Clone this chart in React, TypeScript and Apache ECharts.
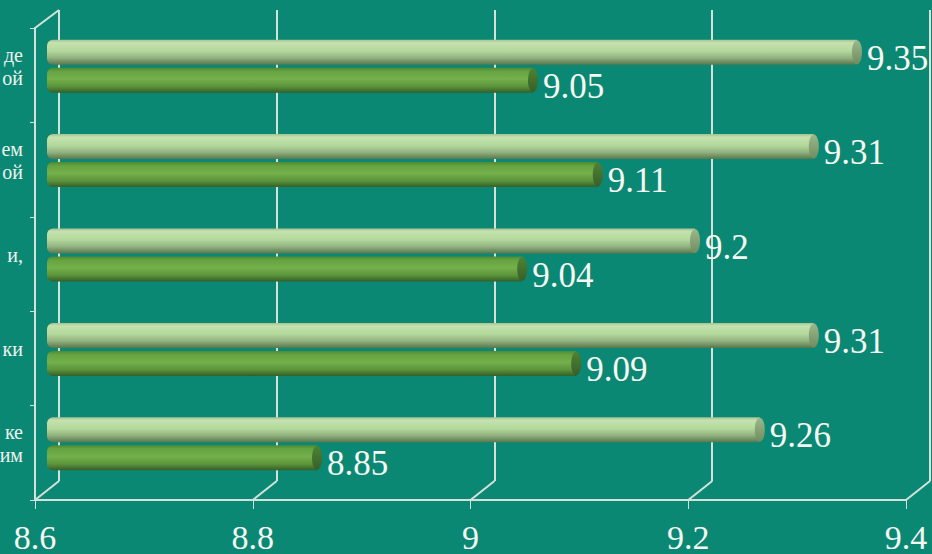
import React, { useEffect, useRef } from "react";
import * as echarts from "echarts";

const categories = ["де\nой", "ем\nой", "и,", "ки", "ке\nим"];
const seriesLight = [9.35, 9.31, 9.2, 9.31, 9.26];
const seriesDark = [9.05, 9.11, 9.04, 9.09, 8.85];
const xMin = 8.6;
const xMax = 9.4;
const xStep = 0.2;
const tickValues = [8.6, 8.8, 9.0, 9.2, 9.4];

const BG = "#0b8873";
const GRID_LINE = "#d3e2db";
const FONT = "Liberation Serif, Times New Roman, serif";
const BAR_W = 25;
const BAR_OFF = 14;

const FRONT = { left: 35, right: 26, top: 28, bottom: 54, outerBoundsMode: "none", containLabel: false };
const BACK = { left: 59, right: 2, top: 10, bottom: 73, outerBoundsMode: "none", containLabel: false };
const BARS = { left: 47, right: 21, top: 19, bottom: 63, outerBoundsMode: "none", containLabel: false };

function capSeries(values: number[], offset: number, colors: string[]) {
  return {
    type: "custom",
    xAxisIndex: 2,
    yAxisIndex: 2,
    z: 5,
    clip: false,
    silent: true,
    data: values.map((v, i) => [v, i]),
    encode: { x: 0, y: 1 },
    renderItem: (params: any, api: any) => {
      const c = api.coord([api.value(0), api.value(1)]);
      return {
        type: "ellipse",
        shape: { cx: c[0], cy: c[1] + offset, rx: 5, ry: BAR_W / 2 - 0.5 },
        style: {
          fill: new echarts.graphic.LinearGradient(0, 0, 0, 1, [
            { offset: 0, color: colors[0] },
            { offset: 1, color: colors[1] },
          ]),
        },
      };
    },
  };
}

export default function App() {
  const ref = useRef<HTMLDivElement>(null);

  useEffect(() => {
    if (!ref.current) return;
    const chart = echarts.init(ref.current, null, { renderer: "svg" });

    const lightGrad = new echarts.graphic.LinearGradient(0, 0, 0, 1, [
      { offset: 0, color: "#a3c292" },
      { offset: 0.12, color: "#c4e2ae" },
      { offset: 0.45, color: "#b4d89c" },
      { offset: 0.72, color: "#93b381" },
      { offset: 1, color: "#58774d" },
    ]);
    const darkGrad = new echarts.graphic.LinearGradient(0, 0, 0, 1, [
      { offset: 0, color: "#4f8a34" },
      { offset: 0.15, color: "#66a342" },
      { offset: 0.45, color: "#74b04b" },
      { offset: 0.75, color: "#5c943b" },
      { offset: 1, color: "#355e29" },
    ]);

    const labelStyle = {
      show: true,
      position: "right",
      distance: 10,
      offset: [0, 6],
      color: "#f6f8f2",
      fontFamily: FONT,
      fontSize: 35,
    };

    const option: any = {
      animation: false,
      backgroundColor: BG,
      textStyle: { fontFamily: FONT },
      grid: [BACK, FRONT, BARS],
      xAxis: [
        {
          gridIndex: 0,
          type: "value",
          min: xMin,
          max: xMax,
          interval: xStep,
          axisLine: { show: false },
          axisTick: { show: false },
          axisLabel: { show: false },
          splitLine: { show: true, lineStyle: { color: GRID_LINE, width: 2 } },
        },
        {
          gridIndex: 1,
          type: "value",
          min: xMin,
          max: xMax,
          interval: xStep,
          axisLine: { show: true, lineStyle: { color: GRID_LINE, width: 2 } },
          axisTick: { show: true, length: 9, lineStyle: { color: GRID_LINE, width: 1 } },
          axisLabel: {
            show: true,
            color: "#f4f6f2",
            fontFamily: FONT,
            fontSize: 34,
            lineHeight: 24,
            margin: 25,
            formatter: (v: number) => String(Number(v.toFixed(1))),
          },
          splitLine: { show: false },
        },
        {
          gridIndex: 2,
          type: "value",
          min: xMin,
          max: xMax,
          interval: xStep,
          show: false,
        },
      ],
      yAxis: [
        {
          gridIndex: 0,
          type: "category",
          data: categories,
          inverse: true,
          show: false,
        },
        {
          gridIndex: 1,
          type: "category",
          data: categories,
          inverse: true,
          axisLine: { show: true, lineStyle: { color: GRID_LINE, width: 2 } },
          axisTick: { show: true, length: 5, lineStyle: { color: GRID_LINE, width: 1 } },
          axisLabel: { show: false },
          splitLine: { show: false },
        },
        {
          gridIndex: 2,
          type: "category",
          data: categories,
          inverse: true,
          axisLine: { show: false },
          axisTick: { show: false },
          axisLabel: {
            show: true,
            color: "#eef3ee",
            fontFamily: FONT,
            fontSize: 20,
            lineHeight: 23,
            margin: 24,
            align: "right",
          },
          splitLine: { show: false },
        },
      ],
      series: [
        {
          type: "bar",
          name: "light",
          xAxisIndex: 2,
          yAxisIndex: 2,
          data: seriesLight,
          barWidth: BAR_W,
          barGap: "12%",
          itemStyle: { color: lightGrad, borderRadius: [6, 0, 0, 6] },
          label: labelStyle,
          z: 4,
        },
        {
          type: "bar",
          name: "dark",
          xAxisIndex: 2,
          yAxisIndex: 2,
          data: seriesDark,
          barWidth: BAR_W,
          barGap: "12%",
          itemStyle: { color: darkGrad, borderRadius: [6, 0, 0, 6] },
          label: labelStyle,
          z: 4,
        },
        capSeries(seriesLight, -BAR_OFF, ["#9ab889", "#6f8d62"]),
        capSeries(seriesDark, BAR_OFF, ["#4e8233", "#37602a"]),
      ],
    };

    chart.setOption(option);

    const frontY = 554 - FRONT.bottom;
    const backY = 554 - BACK.bottom;
    const lines: any[] = [];
    tickValues.forEach((v) => {
      const fx = chart.convertToPixel({ xAxisIndex: 1 }, v) as number;
      const bx = chart.convertToPixel({ xAxisIndex: 0 }, v) as number;
      lines.push({
        type: "line",
        shape: { x1: fx, y1: frontY, x2: bx, y2: backY },
        style: { stroke: GRID_LINE, lineWidth: 2 },
        z: 1,
      });
    });
    const fx0 = chart.convertToPixel({ xAxisIndex: 1 }, xMin) as number;
    const bx0 = chart.convertToPixel({ xAxisIndex: 0 }, xMin) as number;
    lines.push({
      type: "line",
      shape: { x1: fx0, y1: FRONT.top, x2: bx0, y2: BACK.top },
      style: { stroke: GRID_LINE, lineWidth: 2 },
      z: 1,
    });
    chart.setOption({ graphic: lines });

    return () => chart.dispose();
  }, []);

  return (
    <div
      ref={ref}
      style={{ position: "fixed", left: 0, top: 0, width: 932, height: 554 }}
    />
  );
}
